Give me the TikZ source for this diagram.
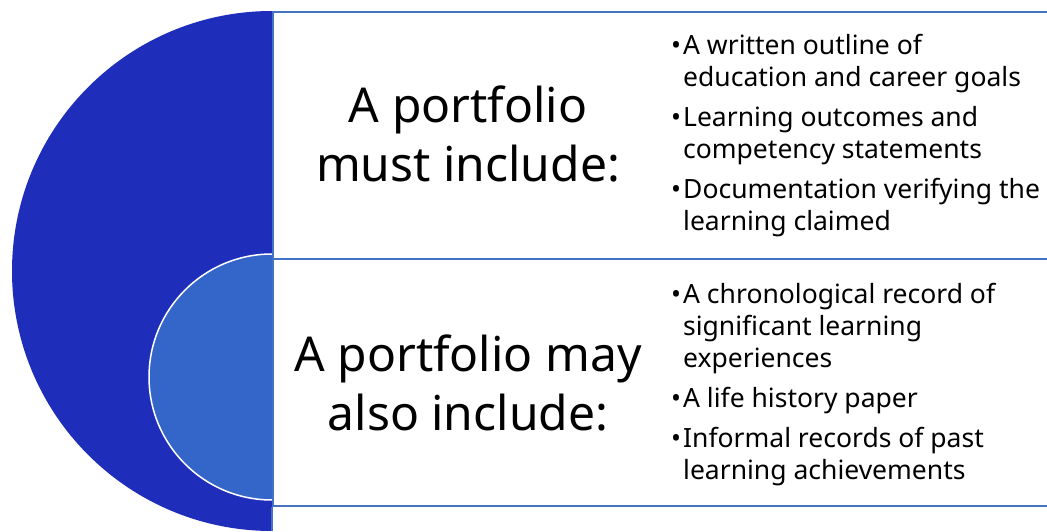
\documentclass[tikz,border=0pt]{standalone}
\usepackage{fontspec}
\setmainfont{Noto Sans}
\definecolor{bigblue}{RGB}{31,45,187}
\definecolor{smallblue}{RGB}{51,102,200}
\definecolor{rulecolor}{RGB}{68,114,196}
\newcommand{\bulletitem}{\textbullet\hspace{2pt}}
\newcommand{\hangitem}{\hphantom{\textbullet\hspace{2pt}}}
\begin{document}
\begin{tikzpicture}
[x=1pt,y=1pt,
  boxdecorate/.style={shape=rectangle,draw=rulecolor,line width=2pt,fill=white,
    anchor=north west,minimum width=800pt,minimum height=247pt,inner sep=0pt},
  headdecorate/.style={align=center,inner sep=0pt,font=\fontsize{48}{59}\selectfont},
  listdecorate/.style={align=left,anchor=west,inner sep=0pt,font=\fontsize{26.5}{32}\selectfont}]
\clip (0,0) rectangle (1047,531);
%% big half disc
\fill[bigblue] (272,520) arc[start angle=90,end angle=270,radius=260];
%% boxes
\node (mustbox) at (272,520) [boxdecorate] {};
\node (maybox) at (272,273) [boxdecorate] {};
\coordinate (foot) at (272,0);
\draw[rulecolor,line width=2pt] (maybox.south west) -- (foot);
%% small half disc
\filldraw[fill=smallblue,draw=white,line width=1.5pt] (272,277)
  arc[start angle=90,end angle=270,radius=123];
%% texts
\node (musthead) at (468,397) [headdecorate] {A portfolio\\must include:};
\node (mayhead) at (468,148) [headdecorate] {A portfolio may\\also include:};
\node (mustlist) at (671,395) [listdecorate] {%
  \bulletitem A written outline of\\
  \hangitem education and career goals\\[8pt]
  \bulletitem Learning outcomes and\\
  \hangitem competency statements\\[8pt]
  \bulletitem Documentation verifying the\\
  \hangitem learning claimed};
\node (maylist) at (671,146) [listdecorate] {%
  \bulletitem A chronological record of\\
  \hangitem significant learning\\
  \hangitem experiences\\[8pt]
  \bulletitem A life history paper\\[8pt]
  \bulletitem Informal records of past\\
  \hangitem learning achievements};
\end{tikzpicture}
\end{document}
